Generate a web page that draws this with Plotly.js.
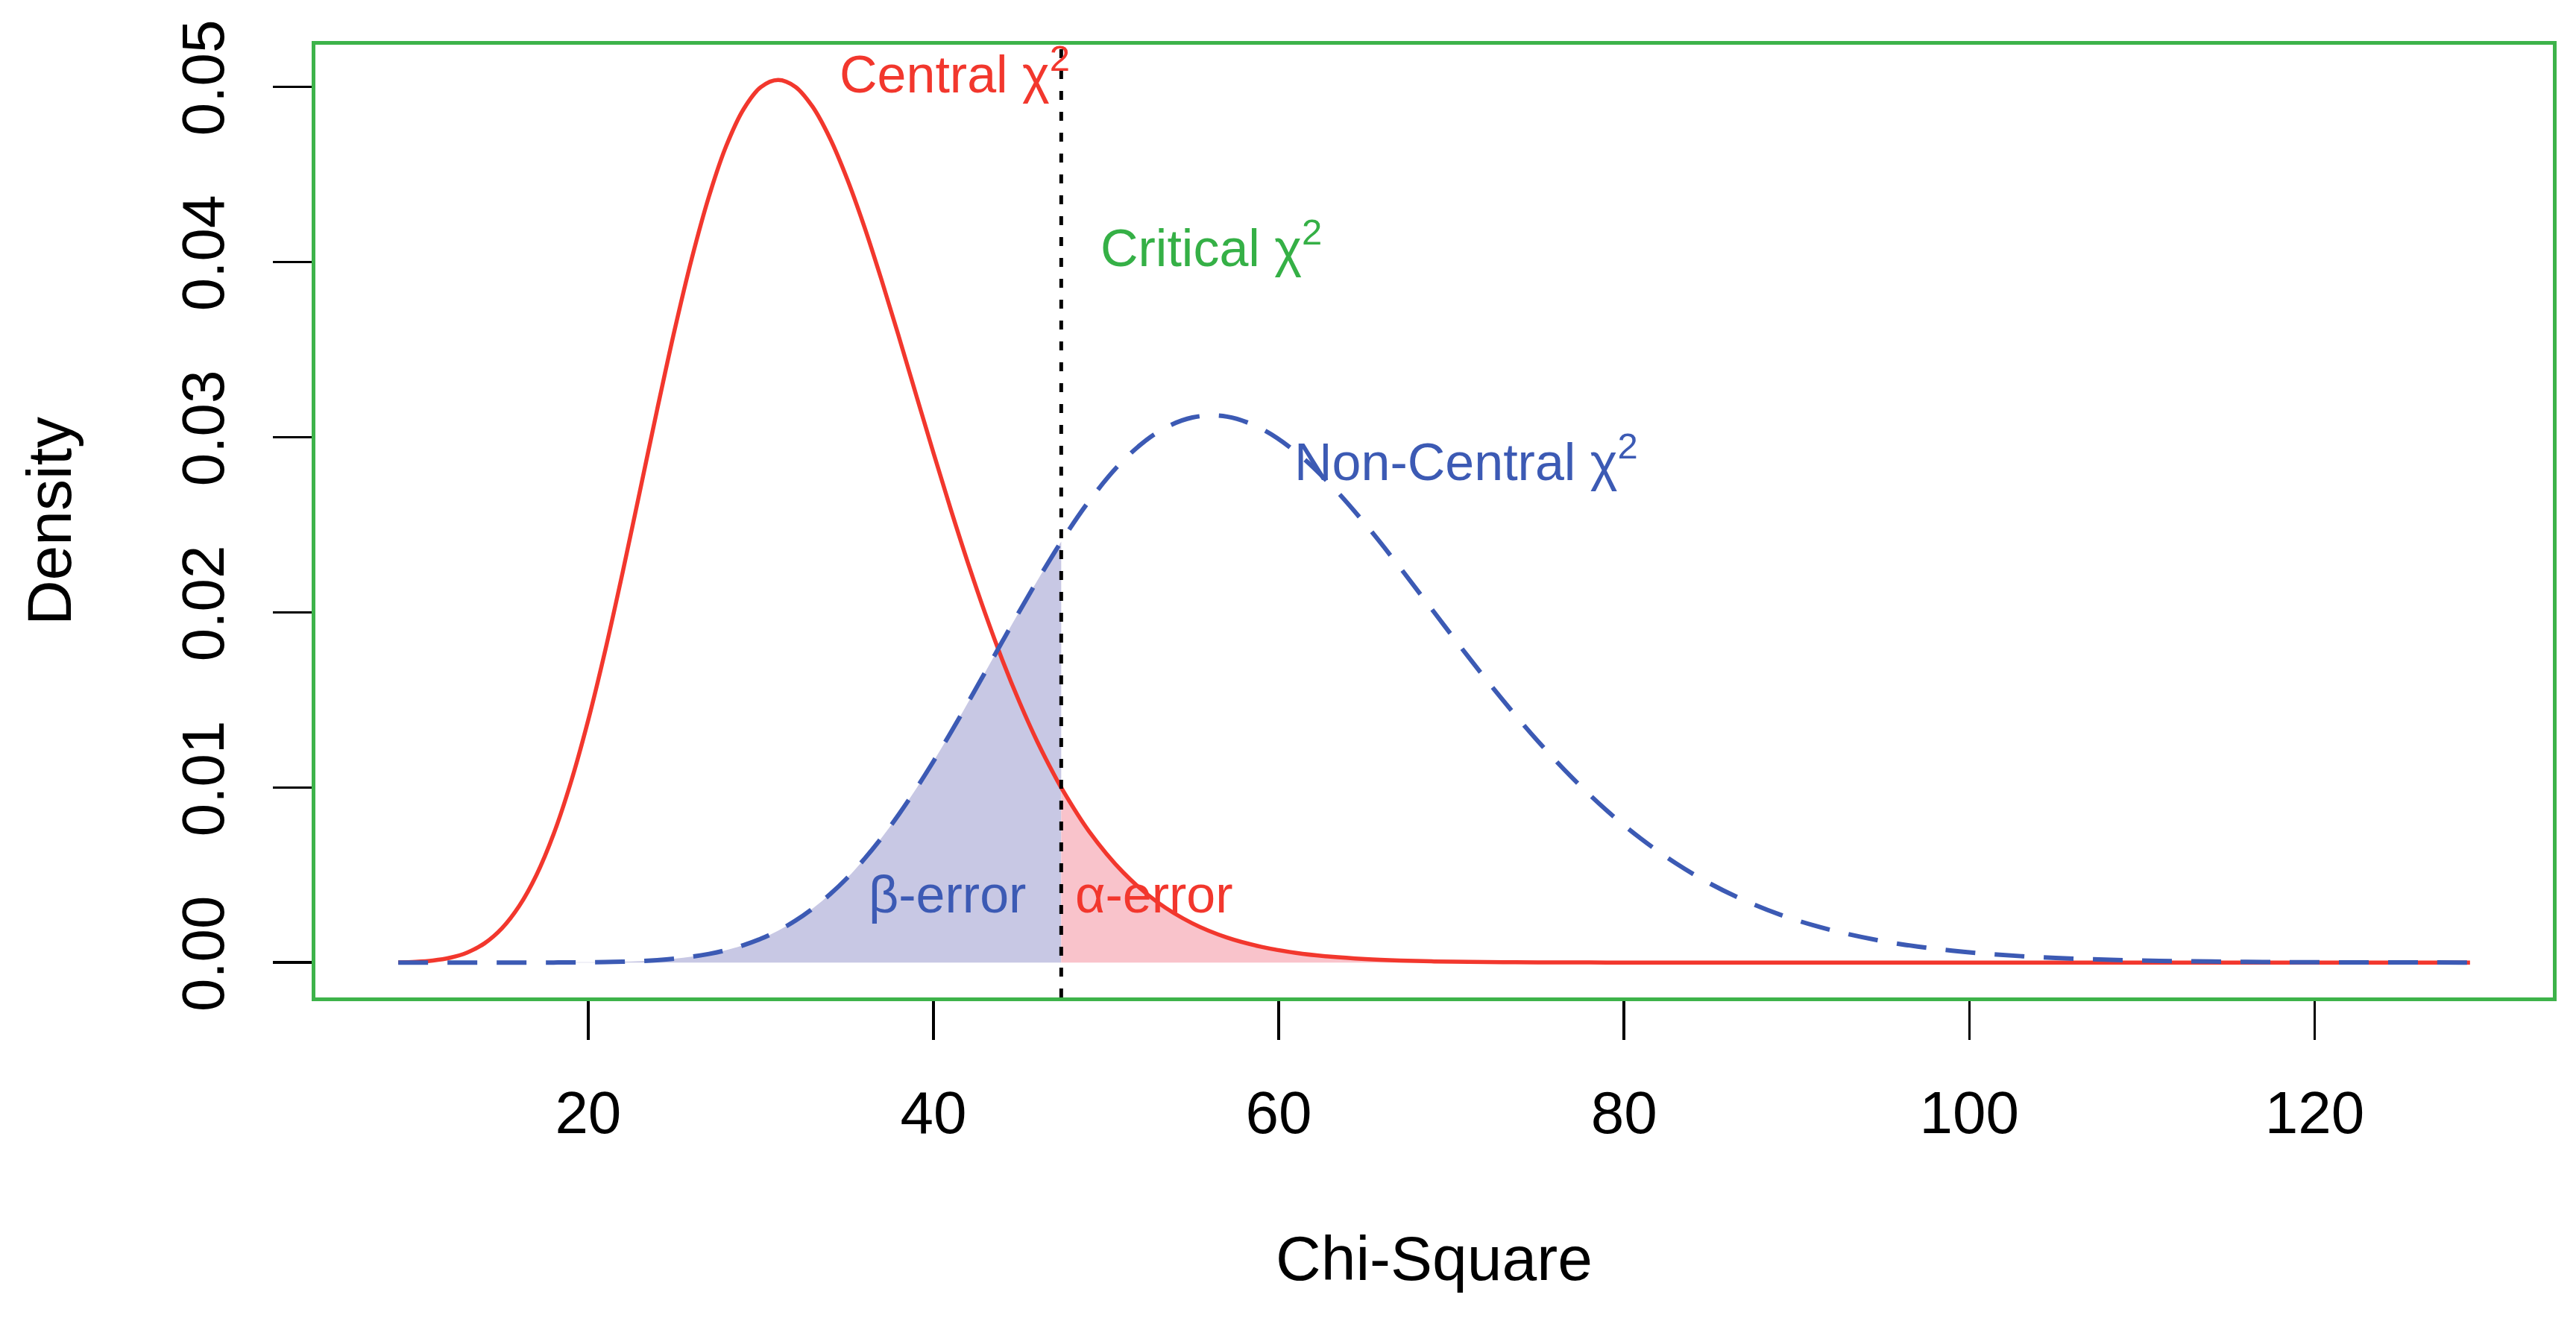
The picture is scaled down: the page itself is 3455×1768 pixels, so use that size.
<!DOCTYPE html>
<html>
<head>
<meta charset="utf-8">
<script src="https://cdn.plot.ly/plotly-3.0.1.min.js"></script>
<style>
html, body { margin: 0; padding: 0; background: #ffffff; }
#chart { width: 3455px; height: 1768px; }
</style>
</head>
<body>
<div id="chart"></div>
<script>
// ---- Data ----
const chiSquare = [
  9, 10, 11, 12, 13, 14, 15, 16, 17, 18, 19, 20, 21, 22, 23, 24, 25, 26, 27, 28,
  29, 30, 31, 32, 33, 34, 35, 36, 37, 38, 39, 40, 41, 42, 43, 44, 45, 46, 47,
  47.4,
  49, 51, 53, 55, 57, 59, 61, 63, 65, 67, 69, 71, 73, 75, 77, 79, 81, 83, 85, 87,
  89, 91, 93, 95, 97, 99, 101, 103, 105, 107, 109, 111, 113, 115, 117, 119, 121, 123, 125, 127, 129
];

const centralDensity = [
  0.0000143, 0.0000443, 0.000118, 0.000275, 0.000577, 0.00110, 0.00195, 0.00322, 0.00499, 0.00734,
  0.01030, 0.01383, 0.01787, 0.02229, 0.02693, 0.03159, 0.03608, 0.04019, 0.04375, 0.04663,
  0.04872, 0.04998, 0.05039, 0.05000, 0.04886, 0.04707, 0.04474, 0.04200, 0.03895, 0.03572,
  0.03240, 0.02910, 0.02588, 0.02281, 0.01992, 0.01725, 0.01483, 0.01264, 0.01070,
  0.00999,
  0.00751, 0.00514, 0.00343, 0.00224, 0.00143, 0.00090, 0.000555, 0.000337, 0.000201, 0.000118,
  0.0000687, 0.0000393, 0.0000223, 0.0000125, 0.0000069, 0.0000038, 0.0000021, 0.0000011, 0.0000006, 0,
  0, 0, 0, 0, 0, 0, 0, 0, 0, 0, 0, 0, 0, 0, 0, 0, 0, 0, 0, 0, 0
];

const nonCentralDensity = [
  0, 0, 0, 0.00000001, 0.00000004, 0.00000013, 0.0000003, 0.00000085, 0.000002, 0.0000042,
  0.0000085, 0.0000163, 0.0000298, 0.0000521, 0.0000874, 0.000142, 0.000222, 0.000336, 0.000496, 0.000711,
  0.000996, 0.00136, 0.00182, 0.00239, 0.00308, 0.00389, 0.00483, 0.00592, 0.00713, 0.00847,
  0.00993, 0.01149, 0.01313, 0.01484, 0.01659, 0.01835, 0.02009, 0.02178, 0.02340,
  0.02403,
  0.02633, 0.02867, 0.03029, 0.03112, 0.03117, 0.03047, 0.02914, 0.02728, 0.02505, 0.02258,
  0.02000, 0.01743, 0.01496, 0.01265, 0.01055, 0.00868, 0.00706, 0.00567, 0.00450, 0.00354,
  0.00275, 0.00212, 0.00162, 0.00122, 0.000916, 0.000681, 0.000502, 0.000367, 0.000267, 0.000193,
  0.000138, 0.0000982, 0.0000695, 0.0000488, 0.0000341, 0.0000237, 0.0000164, 0.0000113, 0.0000077, 0.0000052,
  0.0000036
];

const criticalValue = 47.4;

const xTickValues = [20, 40, 60, 80, 100, 120];
const xTickLabels = ["20", "40", "60", "80", "100", "120"];
const yTickValues = [0, 0.01, 0.02, 0.03, 0.04, 0.05];
const yTickLabels = ["0.00", "0.01", "0.02", "0.03", "0.04", "0.05"];

const xAxisTitle = "Chi-Square";
const yAxisTitle = "Density";
const labelCentral = "Central \u03c7<sup>2</sup>";
const labelCritical = "Critical \u03c7<sup>2</sup>";
const labelNonCentral = "Non-Central \u03c7<sup>2</sup>";
const labelBeta = "\u03b2-error";
const labelAlpha = "\u03b1-error";

// ---- Styling ----
const FONT = "Liberation Sans, Arial, Helvetica, sans-serif";
const RED = "#f2372d";
const BLUE = "#3c5ab4";
const GREEN = "#3db34a";
const GREEN_TEXT = "#35b046";
const LAVENDER = "#c8c8e4";
const PINK = "#f9c3cb";

// split the grid at the critical value for the two shaded areas
const critIndex = chiSquare.indexOf(criticalValue);
const betaX = chiSquare.slice(0, critIndex + 1);
const betaY = nonCentralDensity.slice(0, critIndex + 1);
const alphaX = chiSquare.slice(critIndex);
const alphaY = centralDensity.slice(critIndex);

const traces = [
  {
    x: betaX, y: betaY, type: "scatter", mode: "lines",
    line: { width: 0, shape: "spline", smoothing: 1 },
    fill: "tozeroy", fillcolor: LAVENDER, hoverinfo: "skip", showlegend: false
  },
  {
    x: alphaX, y: alphaY, type: "scatter", mode: "lines",
    line: { width: 0, shape: "spline", smoothing: 1 },
    fill: "tozeroy", fillcolor: PINK, hoverinfo: "skip", showlegend: false
  },
  {
    x: chiSquare, y: centralDensity, type: "scatter", mode: "lines",
    line: { color: RED, width: 5.5, shape: "spline", smoothing: 1 },
    showlegend: false
  },
  {
    x: chiSquare, y: nonCentralDensity, type: "scatter", mode: "lines",
    line: { color: BLUE, width: 6, dash: "40px,26px", shape: "spline", smoothing: 1 },
    showlegend: false
  }
];

const layout = {
  width: 3455,
  height: 1768,
  margin: { l: 423, r: 31, t: 60, b: 430, pad: 0 },
  paper_bgcolor: "#ffffff",
  plot_bgcolor: "#ffffff",
  font: { family: FONT, color: "#000000", size: 80 },
  showlegend: false,
  xaxis: {
    range: [4.2, 133.8],
    tickmode: "array",
    tickvals: xTickValues,
    ticktext: xTickLabels,
    ticks: "outside",
    ticklen: 52,
    tickwidth: 3.5,
    tickcolor: "#000000",
    tickfont: { family: FONT, size: 80, color: "#000000" },
    ticklabelstandoff: 29,
    showline: true,
    linecolor: GREEN,
    linewidth: 5,
    mirror: true,
    showgrid: false,
    zeroline: false,
    title: { text: xAxisTitle, font: { family: FONT, size: 84, color: "#000000" }, standoff: 124 }
  },
  yaxis: {
    range: [-0.00199, 0.0524],
    tickmode: "array",
    tickvals: yTickValues,
    ticktext: yTickLabels,
    tickangle: -90,
    ticks: "outside",
    ticklen: 52,
    tickwidth: 3.5,
    tickcolor: "#000000",
    tickfont: { family: FONT, size: 80, color: "#000000" },
    ticklabelstandoff: 34,
    showline: true,
    linecolor: GREEN,
    linewidth: 5,
    mirror: true,
    showgrid: false,
    zeroline: false,
    title: { text: yAxisTitle, font: { family: FONT, size: 84, color: "#000000" }, standoff: 106 }
  },
  shapes: [
    {
      type: "line", xref: "x", yref: "paper",
      x0: criticalValue, x1: criticalValue, y0: 0, y1: 1,
      line: { color: "#000000", width: 5, dash: "12px,16px" },
      layer: "above"
    }
  ],
  annotations: [
    {
      x: 48.0, y: 0.0509, xref: "x", yref: "y", text: labelCentral,
      xanchor: "right", yanchor: "middle", showarrow: false,
      font: { family: FONT, size: 70, color: RED }
    },
    {
      x: 49.6, y: 0.0410, xref: "x", yref: "y", text: labelCritical,
      xanchor: "left", yanchor: "middle", showarrow: false,
      font: { family: FONT, size: 70, color: GREEN_TEXT }
    },
    {
      x: 60.8, y: 0.0288, xref: "x", yref: "y", text: labelNonCentral,
      xanchor: "left", yanchor: "middle", showarrow: false,
      font: { family: FONT, size: 70, color: BLUE }
    },
    {
      x: 40.8, y: 0.0039, xref: "x", yref: "y", text: labelBeta,
      xanchor: "center", yanchor: "middle", showarrow: false,
      font: { family: FONT, size: 70, color: BLUE }
    },
    {
      x: 52.8, y: 0.0039, xref: "x", yref: "y", text: labelAlpha,
      xanchor: "center", yanchor: "middle", showarrow: false,
      font: { family: FONT, size: 70, color: RED }
    }
  ]
};

Plotly.newPlot("chart", traces, layout, { staticPlot: true, displayModeBar: false });
</script>
</body>
</html>
